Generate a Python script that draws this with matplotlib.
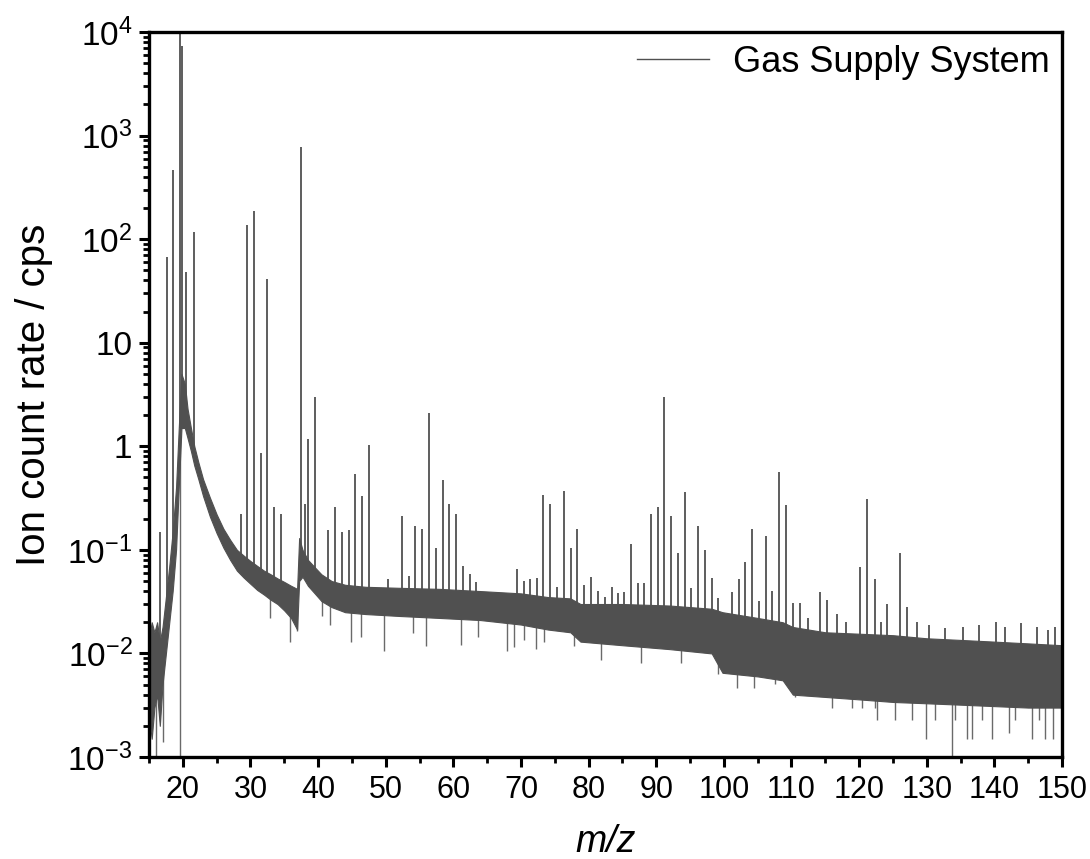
import numpy as np
import matplotlib
matplotlib.use("Agg")
import matplotlib.pyplot as plt
from matplotlib.ticker import FixedLocator, FixedFormatter, LogLocator, NullFormatter, MultipleLocator

# ---------------- data ----------------
# dense noise band of the spectrum: upper and lower edges (m/z, cps)
env_mz = [15.0, 15.4, 15.8, 16.2, 16.6, 17.0, 17.5, 18.0, 18.5, 19.0, 19.4, 19.8,
          20.3, 20.7, 21.2, 21.7, 22.3, 23.0, 24.0, 25.0, 26.0, 27.0, 28.0, 29.0,
          30.0, 31.0, 32.0, 33.0, 34.0, 35.0, 36.0, 36.9, 37.2, 37.7, 38.5, 39.5,
          40.5, 42.0, 44.0, 47.0, 52.0, 58.0, 64.0, 70.0, 74.0, 77.3, 78.8, 85.0,
          92.0, 98.2, 99.8, 105.0, 108.7, 110.2, 115.0, 120.0, 125.0, 130.0, 135.0,
          140.0, 145.0, 150.0]
env_hi = [0.014, 0.02, 0.016, 0.02, 0.013, 0.018, 0.035, 0.07, 0.15, 0.4, 1.5, 5.0,
          4.0, 2.3, 1.5, 1.0, 0.7, 0.48, 0.32, 0.22, 0.16, 0.125, 0.1, 0.088,
          0.078, 0.07, 0.063, 0.058, 0.053, 0.049, 0.045, 0.042, 0.13, 0.1, 0.08, 0.068,
          0.058, 0.05, 0.046, 0.044, 0.043, 0.042, 0.04, 0.038, 0.035, 0.034, 0.03, 0.03,
          0.029, 0.027, 0.025, 0.022, 0.02, 0.018, 0.016, 0.0155, 0.015, 0.014, 0.0135,
          0.013, 0.0125, 0.012]
env_lo = [0.0025, 0.0015, 0.003, 0.004, 0.002, 0.005, 0.01, 0.02, 0.04, 0.1, 0.4, 1.5,
          1.5, 1.2, 0.9, 0.65, 0.48, 0.33, 0.21, 0.145, 0.105, 0.08, 0.063, 0.054,
          0.047, 0.041, 0.037, 0.033, 0.03, 0.026, 0.022, 0.017, 0.05, 0.055, 0.045, 0.038,
          0.032, 0.028, 0.025, 0.024, 0.023, 0.022, 0.021, 0.019, 0.017, 0.016, 0.013, 0.012,
          0.011, 0.01, 0.0065, 0.006, 0.0055, 0.004, 0.0038, 0.0036, 0.0034, 0.0033, 0.0032,
          0.0031, 0.003, 0.003]

# upward peaks (m/z, apex cps)
peak_mz = [16.6, 17.6, 18.6, 19.55, 19.85, 20.5, 21.7, 28.6, 29.5, 30.5, 31.5, 32.5,
           33.5, 34.5, 37.5, 38.0, 38.5, 39.6, 41.5, 42.5, 43.5, 44.5, 45.5, 46.5,
           47.5, 50.4, 52.4, 53.4, 54.4, 55.4, 56.4, 57.5, 58.4, 59.4, 60.4, 61.4,
           62.4, 63.3, 69.4, 70.4, 71.3, 72.3, 73.3, 74.3, 75.3, 76.3, 77.4, 78.3,
           79.3, 80.3, 81.4, 82.4, 83.4, 84.3, 85.3, 86.3, 87.3, 88.2, 89.3, 90.3, 91.2,
           92.2, 93.2, 94.2, 95.2, 96.2, 97.2, 98.2, 99.2, 101.2, 102.2, 103.1, 104.2,
           105.2, 106.2, 107.1, 108.2, 109.2, 110.2, 111.3, 112.5, 114.2, 115.3, 116.8,
           118.0, 120.1, 121.2, 122.3, 123.3, 124.1, 126.1, 127.1, 128.5, 130.3, 132.7,
           135.3, 137.7, 140.2, 141.6, 144.0, 146.3, 148.0, 149.0]
peak_val = [0.15, 67, 470, 20000, 7300, 48, 117, 0.22, 137, 187, 0.87, 41,
            0.26, 0.22, 776, 0.28, 1.18, 3.0, 0.157, 0.26, 0.15, 0.157, 0.54, 0.33,
            1.03, 0.052, 0.21, 0.056, 0.17, 0.16, 2.1, 0.105, 0.47, 0.28, 0.22, 0.07,
            0.058, 0.049, 0.066, 0.05, 0.052, 0.053, 0.34, 0.28, 0.044, 0.37, 0.105, 0.16,
            0.046, 0.055, 0.04, 0.035, 0.044, 0.038, 0.039, 0.114, 0.048, 0.048, 0.22, 0.26,
            3.0, 0.21, 0.093, 0.36, 0.043, 0.17, 0.1, 0.053, 0.034, 0.039, 0.052, 0.076,
            0.16, 0.032, 0.135, 0.04, 0.57, 0.27, 0.031, 0.031, 0.022, 0.039, 0.033, 0.024,
            0.02, 0.068, 0.31, 0.052, 0.02, 0.03, 0.094, 0.028, 0.02, 0.019, 0.0175,
            0.018, 0.019, 0.02, 0.018, 0.0195, 0.018, 0.017, 0.018]

# downward noise spikes (m/z, lowest cps)
dip_mz = [16.1, 17.1, 19.55, 32.9, 35.9, 36.9, 40.6, 41.8, 44.8, 46.3, 49.7, 54.1,
          55.9, 61.1, 63.6, 68.0, 69.0, 70.4, 72.2, 73.4, 77.9, 81.9, 87.8, 93.7,
          99.2, 101.9, 104.5, 107.5, 110.5, 116.0, 118.9, 120.4, 122.3, 122.6, 125.3,
          127.8, 129.9, 131.2, 133.7, 134.2, 136.0, 136.7, 138.2, 139.7, 142.1, 143.1,
          145.6, 146.6, 147.5, 148.6]
dip_val = [0.0009, 0.0014, 0.0009, 0.022, 0.0129, 0.0165, 0.0232, 0.019, 0.0129, 0.0145,
           0.0105, 0.0157, 0.0118, 0.012, 0.0145, 0.0105, 0.0115, 0.0134, 0.011, 0.0128,
           0.0117, 0.0087, 0.008, 0.008, 0.0063, 0.0046, 0.0046, 0.0051, 0.0038, 0.003,
           0.003, 0.003, 0.003, 0.0023, 0.0023, 0.0023, 0.0015, 0.0023, 0.0009, 0.0023,
           0.0015, 0.0015, 0.0023, 0.0015, 0.0017, 0.0023, 0.0015, 0.0023, 0.0015, 0.0015]

x_ticks = [20, 30, 40, 50, 60, 70, 80, 90, 100, 110, 120, 130, 140, 150]
y_ticks = [1e-3, 1e-2, 1e-1, 1, 10, 1e2, 1e3, 1e4]
y_ticklabels = [r'$\mathregular{10^{-3}}$', r'$\mathregular{10^{-2}}$', r'$\mathregular{10^{-1}}$',
                '1', '10', r'$\mathregular{10^{2}}$', r'$\mathregular{10^{3}}$', r'$\mathregular{10^{4}}$']
series_label = 'Gas Supply System'

# ---------------- drawing ----------------
plt.rcParams['font.family'] = ['Liberation Sans', 'DejaVu Sans']
plt.rcParams['mathtext.fontset'] = 'custom'
plt.rcParams['mathtext.rm'] = 'Liberation Sans'
plt.rcParams['mathtext.it'] = 'Liberation Sans:italic'

color = '#505050'

fig = plt.figure(figsize=(10.90, 8.59), dpi=100)
ax = fig.add_axes([149 / 1090, 1 - 757 / 859, (1062 - 149) / 1090, (757 - 32) / 859])

env_mz_a = np.array(env_mz)
hi_a = np.array(env_hi)
lo_a = np.array(env_lo)
ax.fill_between(env_mz_a, lo_a, hi_a, color=color, lw=0.8, edgecolor=color)

mid = np.sqrt(hi_a * lo_a)
pk_base = np.interp(peak_mz, env_mz_a, mid)
ax.vlines(peak_mz, pk_base, peak_val, color=color, lw=1.3)
dip_base = np.interp(dip_mz, env_mz_a, mid)
ax.vlines(dip_mz, dip_val, dip_base, color=color, lw=1.0, alpha=0.85)

ax.plot([], [], color=color, lw=1.0, label=series_label)

ax.set_yscale('log')
ax.set_xlim(15, 150)
ax.set_ylim(1e-3, 1e4)

ax.xaxis.set_major_locator(FixedLocator(x_ticks))
ax.xaxis.set_minor_locator(MultipleLocator(5))
ax.yaxis.set_major_locator(FixedLocator(y_ticks))
ax.yaxis.set_major_formatter(FixedFormatter(y_ticklabels))
ax.yaxis.set_minor_locator(LogLocator(base=10, subs=np.arange(2, 10), numticks=20))
ax.yaxis.set_minor_formatter(NullFormatter())

for s in ax.spines.values():
    s.set_linewidth(2.4)
ax.tick_params(which='major', direction='out', length=7, width=2.2, top=False, right=False)
ax.tick_params(which='minor', direction='out', length=4, width=2.0, top=False, right=False)
ax.tick_params(axis='y', which='major', labelsize=24, pad=5)
ax.tick_params(axis='x', which='major', labelsize=22, pad=6)

ax.set_ylabel('Ion count rate / cps', fontsize=29, labelpad=10)
ax.set_xlabel('m/z', fontsize=27, style='italic', labelpad=14)

leg = ax.legend(loc='upper right', frameon=False, fontsize=26, handlelength=2.0,
                handletextpad=0.65, borderaxespad=0.1, borderpad=0.25)

fig.savefig('out.png', dpi=100)
